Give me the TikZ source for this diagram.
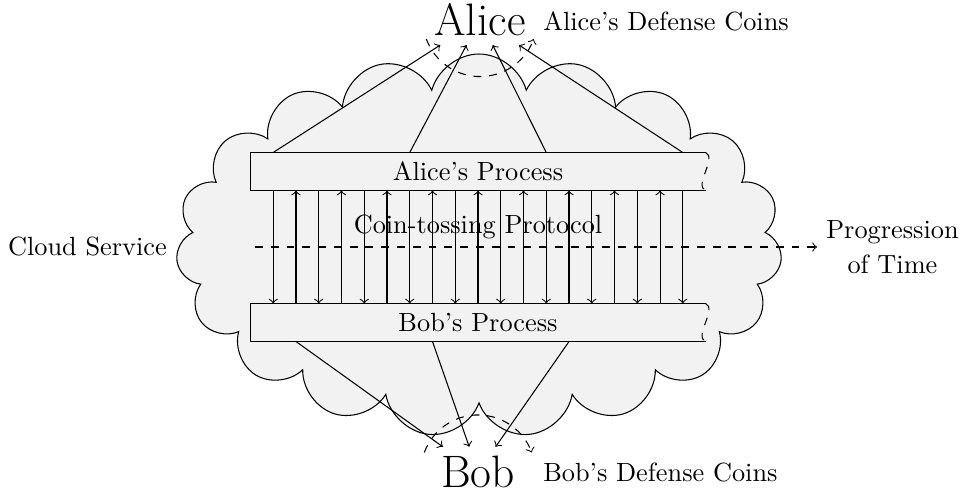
\documentclass[tikz,border=0pt]{standalone}
\usetikzlibrary{shapes.symbols,calc}
\newcommand{\pxu}{0.3802pt}
\begin{document}
\begin{tikzpicture}[x=0.3802pt,y=-0.3802pt,
  cloudshape/.style={cloud, cloud puffs=19, cloud puff arc=150, draw, fill=gray!10, inner sep=0pt,
    minimum width=606*\pxu, minimum height=383*\pxu},
  procbox/.style={fill=gray!10, inner sep=0pt, minimum width=454*\pxu, minimum height=37*\pxu},
  person/.style={font=\LARGE},
  coinarc/.style={dashed,->},
  msg/.style={->},
  tear/.style={dashed},
]
\useasboundingbox (0,0) rectangle (961,494);
\node[cloudshape] (cloud) at (479,245.5) {};
\node[procbox] (aproc) at (478,171.5) {Alice's Process};
\node[procbox] (bproc) at (478,322.5) {Bob's Process};
\draw (aproc.north east) -- (aproc.north west) -- (aproc.south west) -- (aproc.south east);
\draw[tear] (aproc.north east) .. controls +(12,5) and +(-12,-5) .. (aproc.south east);
\draw (bproc.north east) -- (bproc.north west) -- (bproc.south west) -- (bproc.south east);
\draw[tear] (bproc.north east) .. controls +(12,5) and +(-12,-5) .. (bproc.south east);

\node[person] (alice) at (480,19.5) {Alice};
\node[person] (bob) at (478,472) {Bob};
\node[anchor=west] (acoins) at (534,21) {Alice's Defense Coins};
\node[anchor=west] (bcoins) at (534,473) {Bob's Defense Coins};
\node[anchor=east] (cs) at (176,247) {Cloud Service};
\node[anchor=west, align=center] (time) at (817,247) {Progression\\[1.2pt]of Time};
\node (proto) at (478,226.5) {Coin-tossing Protocol};
\coordinate (tstart) at (255,247);

\foreach \k in {1,3,...,19}
  \draw[msg] ($(aproc.south west)!\k/20!(aproc.south east)$) -- ($(bproc.north west)!\k/20!(bproc.north east)$);
\foreach \k in {2,4,...,18}
  \draw[msg] ($(bproc.north west)!\k/20!(bproc.north east)$) -- ($(aproc.south west)!\k/20!(aproc.south east)$);
\foreach \k in {1,7,13,19}
  \draw[msg] ($(aproc.north west)!\k/20!(aproc.north east)$) -- (alice);
\foreach \k in {2,8,14}
  \draw[msg] ($(bproc.south west)!\k/20!(bproc.south east)$) -- (bob);

\draw[dashed,->] (tstart) -- (time.west);
\draw[coinarc] (alice.center) ++(200:21.7pt) arc[start angle=200, end angle=340, radius=21.7pt];
\draw[coinarc] (bob.center) ++(160:21.7pt) arc[start angle=160, end angle=20, radius=21.7pt];
\end{tikzpicture}
\end{document}
